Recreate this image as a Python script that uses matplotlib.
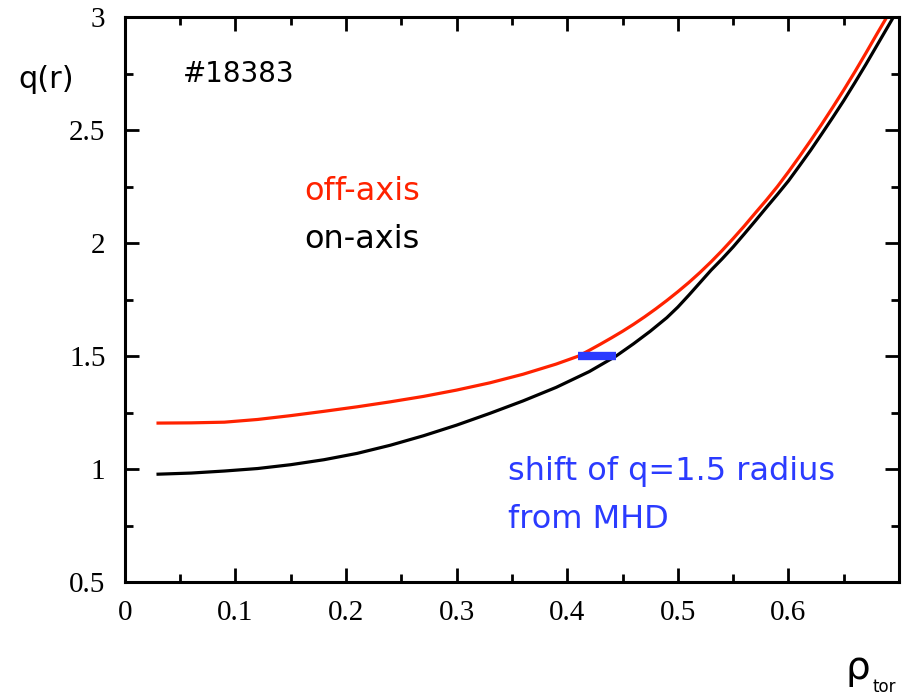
import matplotlib
matplotlib.use("Agg")
import matplotlib.pyplot as plt
from matplotlib.ticker import MultipleLocator

# q profiles (rho_tor, q)
rho_off = [0.03, 0.06, 0.09, 0.12, 0.15, 0.18, 0.21, 0.24, 0.27, 0.30, 0.33, 0.36,
           0.39, 0.41, 0.42, 0.43, 0.44, 0.45, 0.46, 0.47, 0.48, 0.49, 0.50, 0.51,
           0.52, 0.53, 0.54, 0.55, 0.56, 0.57, 0.58, 0.59, 0.60, 0.61, 0.62, 0.63,
           0.64, 0.65, 0.66, 0.67, 0.68, 0.689]
q_off = [1.204, 1.205, 1.208, 1.220, 1.237, 1.256, 1.276, 1.298, 1.322, 1.350, 1.382, 1.420,
         1.465, 1.500, 1.526, 1.553, 1.581, 1.610, 1.641, 1.674, 1.709, 1.746, 1.785, 1.826,
         1.870, 1.917, 1.967, 2.020, 2.075, 2.133, 2.190, 2.250, 2.315, 2.383, 2.453, 2.525,
         2.600, 2.677, 2.757, 2.840, 2.925, 3.0]

rho_on = [0.03, 0.06, 0.09, 0.12, 0.15, 0.18, 0.21, 0.24, 0.27, 0.30, 0.33, 0.36,
          0.39, 0.42, 0.444, 0.46, 0.475, 0.49, 0.50, 0.51, 0.52, 0.53, 0.54, 0.55,
          0.56, 0.57, 0.58, 0.59, 0.60, 0.61, 0.62, 0.63, 0.64, 0.65, 0.66, 0.67,
          0.68, 0.69, 0.695]
q_on = [0.978, 0.983, 0.992, 1.003, 1.020, 1.042, 1.070, 1.106, 1.148, 1.195, 1.247, 1.302,
        1.362, 1.432, 1.500, 1.555, 1.610, 1.670, 1.717, 1.770, 1.825, 1.880, 1.930, 1.983,
        2.040, 2.098, 2.157, 2.215, 2.275, 2.342, 2.410, 2.482, 2.555, 2.630, 2.709, 2.790,
        2.874, 2.958, 3.0]

# q=1.5 radius shift from MHD
shift_rho = [0.41, 0.444]
shift_q = [1.5, 1.5]

RED = "#ff2200"
BLUE = "#2b3bff"

fig = plt.figure(figsize=(9.05, 6.99), dpi=100)
ax = fig.add_axes([0.138, 0.167, 0.8554, 0.8087])

ax.plot(rho_off, q_off, color=RED, lw=2.3)
ax.plot(rho_on, q_on, color="black", lw=2.3)
ax.plot(shift_rho, shift_q, color=BLUE, lw=6, solid_capstyle="butt")

ax.set_xlim(0, 0.7)
ax.set_ylim(0.5, 3)
ax.xaxis.set_minor_locator(MultipleLocator(0.05))
ax.yaxis.set_minor_locator(MultipleLocator(0.25))
ax.set_xticks([0, 0.1, 0.2, 0.3, 0.4, 0.5, 0.6])
ax.set_xticklabels(["0", "0.1", "0.2", "0.3", "0.4", "0.5", "0.6"])
ax.set_yticks([0.5, 1, 1.5, 2, 2.5, 3])
ax.set_yticklabels(["0.5", "1", "1.5", "2", "2.5", "3"])

ax.tick_params(which="both", direction="in", top=True, right=True, width=2)
ax.tick_params(which="major", length=10)
ax.tick_params(which="minor", length=6)
ax.tick_params(axis="y", pad=14)
ax.tick_params(axis="x", pad=13)
for lab in ax.get_xticklabels() + ax.get_yticklabels():
    lab.set_family("Liberation Serif")
    lab.set_fontsize(21)
for sp in ax.spines.values():
    sp.set_linewidth(2.2)

sans = "DejaVu Sans"
ax.text(0.052, 2.748, "#18383", fontsize=20, family=sans, va="center")
ax.text(0.162, 2.226, "off-axis", fontsize=23, family=sans, color=RED, va="center")
ax.text(0.162, 2.018, "on-axis", fontsize=23, family=sans, color="black", va="center")
ax.text(0.346, 0.99, "shift of q=1.5 radius", fontsize=23, family=sans, color=BLUE, va="center")
ax.text(0.346, 0.779, "from MHD", fontsize=23, family=sans, color=BLUE, va="center")

fig.text(46 / 905, 1 - 80 / 699, "q(r)", fontsize=22, family=sans, ha="center", va="center")
fig.text(858 / 905, 1 - 668 / 699, "ρ", fontsize=28, family=sans, ha="center", va="center")
fig.text(884 / 905, 1 - 687 / 699, "tor", fontsize=12, family=sans, ha="center", va="center")

fig.savefig("out.png", dpi=100)
